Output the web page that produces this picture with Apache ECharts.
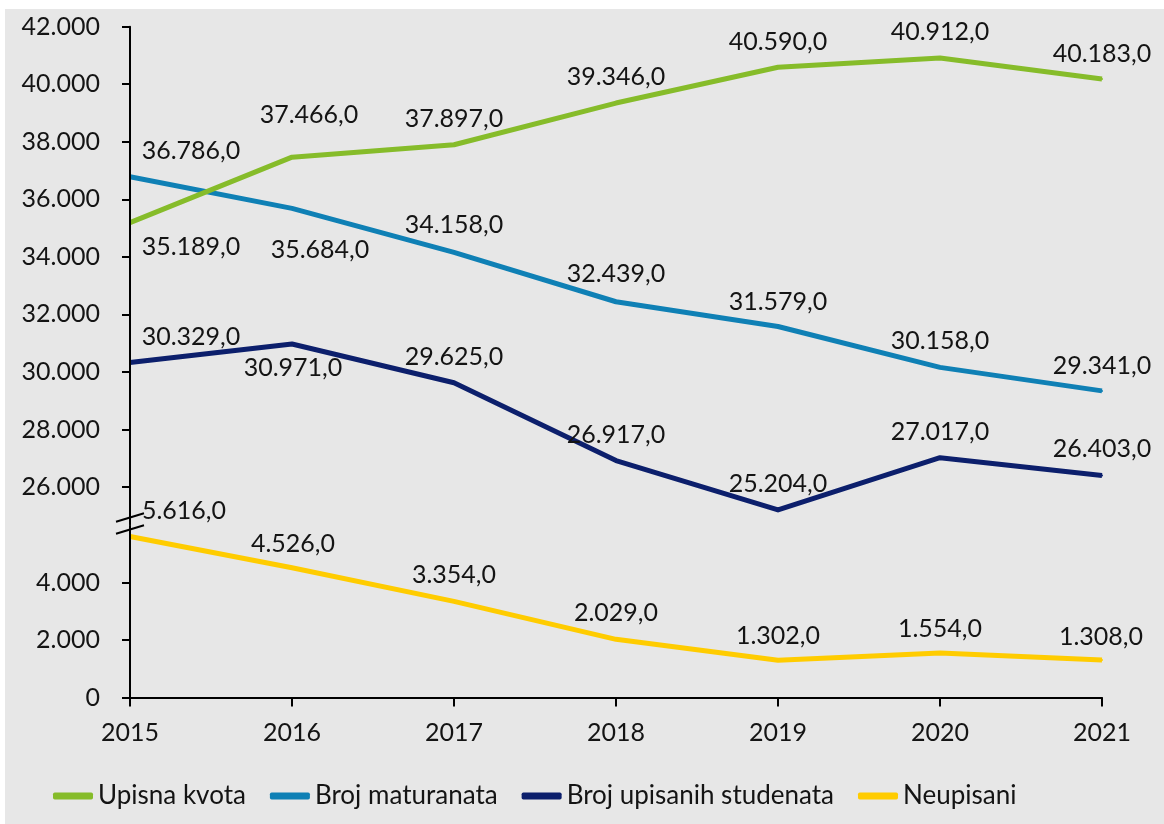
<!DOCTYPE html>
<html>
<head>
<meta charset="utf-8">
<script src="https://cdn.jsdelivr.net/npm/echarts@6/dist/echarts.min.js"></script>
<style>
  html, body { margin: 0; padding: 0; background: #ffffff; }
  #chart { width: 1164px; height: 824px; }
</style>
</head>
<body>
<div id="chart"></div>
<script>
// Years on the horizontal axis
const years = ['2015', '2016', '2017', '2018', '2019', '2020', '2021'];

// Series values
const upisnaKvota    = [35189, 37466, 37897, 39346, 40590, 40912, 40183];
const brojMaturanata = [36786, 35684, 34158, 32439, 31579, 30158, 29341];
const brojUpisanih   = [30329, 30971, 29625, 26917, 25204, 27017, 26403];
const neupisani      = [5616, 4526, 3354, 2029, 1302, 1554, 1308];

// Tick values of the broken value axis (upper and lower part)
const upperTicks = [26000, 28000, 30000, 32000, 34000, 36000, 38000, 40000, 42000];
const lowerTicks = [0, 2000, 4000];

// Label placement per point ([dx, dy] from the point)
const offUpisna = [[61, 24], [17, -42], [0, -26], [0, -26], [0, -25], [0, -26], [0, -25]];
const offMatur  = [[61, -26], [28, 42], [0, -27], [0, -28], [0, -25], [0, -26], [0, -25]];
const offUpis   = [[61, -26], [1, 24], [0, -26], [0, -26], [0, -26], [0, -26], [0, -26]];
const offNeup   = [[54, -26], [1, -24], [0, -26], [0, -26], [0, -24], [0, -24], [-1, -23]];

const FONT = 'Lato';
const TEXT = '#141414';
const BG = '#e7e7e7';

// 37466 -> "37.466" ; with one decimal -> "37.466,0"
function fmt(v, dec) {
  const neg = v < 0;
  const fixed = Math.abs(v).toFixed(dec);
  const parts = fixed.split('.');
  const intPart = parts[0].replace(/\B(?=(\d{3})+(?!\d))/g, '.');
  return (neg ? '-' : '') + intPart + (dec > 0 ? ',' + parts[1] : '');
}

function pointData(values, offsets) {
  return values.map((v, i) => ({ value: v, label: { offset: offsets[i] } }));
}

function lineSeries(name, values, offsets, color, axisIdx, z) {
  return {
    name: name,
    type: 'line',
    xAxisIndex: axisIdx,
    yAxisIndex: axisIdx,
    data: pointData(values, offsets),
    symbol: 'circle',
    symbolSize: 2,
    showAllSymbol: true,
    z: z,
    itemStyle: { color: color },
    lineStyle: { color: color, width: 5, join: 'round', cap: 'butt' },
    label: {
      show: true,
      position: 'inside',
      fontFamily: FONT,
      fontSize: 25,
      color: TEXT,
      formatter: p => fmt(p.value, 1)
    },
    emphasis: { disabled: true },
    animation: false
  };
}

const axisLineStyle = { show: true, lineStyle: { color: '#000000', width: 2 } };

const chart = echarts.init(document.getElementById('chart'), null, { renderer: 'canvas' });

const option = {
  backgroundColor: '#ffffff',
  animation: false,
  textStyle: { fontFamily: FONT },
  grid: [
    { left: 130, right: 62, top: 26.7, height: 497.7 },
    { left: 130, right: 62, top: 525.5, height: 172 }
  ],
  xAxis: [
    {
      gridIndex: 0, type: 'category', data: years, boundaryGap: false,
      show: false
    },
    {
      gridIndex: 1, type: 'category', data: years, boundaryGap: false,
      axisLine: axisLineStyle,
      axisTick: { show: true, alignWithLabel: true, length: 9, lineStyle: { color: '#000000', width: 2 } },
      axisLabel: { fontFamily: FONT, fontSize: 25, color: TEXT, margin: 23, interval: 0 },
      splitLine: { show: false }
    }
  ],
  yAxis: [
    {
      gridIndex: 0, type: 'value', min: 24700, max: 42000, z: 5,
      axisLine: axisLineStyle,
      axisTick: { show: true, length: 8, customValues: upperTicks, lineStyle: { color: '#000000', width: 2 } },
      axisLabel: { fontFamily: FONT, fontSize: 25, color: TEXT, margin: 30, customValues: upperTicks, formatter: v => fmt(v, 0) },
      splitLine: { show: false }
    },
    {
      gridIndex: 1, type: 'value', min: 0, max: 6000, z: 5,
      axisLine: axisLineStyle,
      axisTick: { show: true, length: 8, customValues: lowerTicks, lineStyle: { color: '#000000', width: 2 } },
      axisLabel: { fontFamily: FONT, fontSize: 25, color: TEXT, margin: 30, customValues: lowerTicks, formatter: v => fmt(v, 0) },
      splitLine: { show: false }
    }
  ],
  legend: {
    left: 48,
    top: 778,
    icon: 'roundRect',
    itemWidth: 40,
    itemHeight: 7,
    itemGap: 24,
    textStyle: { fontFamily: FONT, fontSize: 26, color: TEXT },
    data: ['Upisna kvota', 'Broj maturanata', 'Broj upisanih studenata', 'Neupisani']
  },
  series: [
    lineSeries('Upisna kvota', upisnaKvota, offUpisna, '#86bc2a', 0, 4),
    lineSeries('Broj maturanata', brojMaturanata, offMatur, '#0f80b5', 0, 3),
    lineSeries('Broj upisanih studenata', brojUpisanih, offUpis, '#0c1f6c', 0, 3),
    lineSeries('Neupisani', neupisani, offNeup, '#ffcc00', 1, 3)
  ]
};

chart.setOption(option);

// Gray plot background and the axis break mark at the top of the lower axis
const bx = chart.convertToPixel({ xAxisIndex: 1 }, years[0]);
const by = chart.convertToPixel({ yAxisIndex: 1 }, 6000) - 2;
chart.setOption({
  graphic: [
    {
      type: 'rect', left: 5, top: 9, z: -100, silent: true,
      shape: { width: 1159, height: 815 },
      style: { fill: BG }
    },
    {
      type: 'group', x: bx, y: by, z: 100, silent: true,
      children: [
        { type: 'polygon', shape: { points: [[-14, -1.8], [14, -10.2], [14, 1.8], [-14, 10.2]] }, style: { fill: BG } },
        { type: 'line', shape: { x1: -14, y1: -1.8, x2: 14, y2: -10.2 }, style: { stroke: '#000000', lineWidth: 2 } },
        { type: 'line', shape: { x1: -14, y1: 10.2, x2: 14, y2: 1.8 }, style: { stroke: '#000000', lineWidth: 2 } }
      ]
    }
  ]
});
</script>
</body>
</html>
